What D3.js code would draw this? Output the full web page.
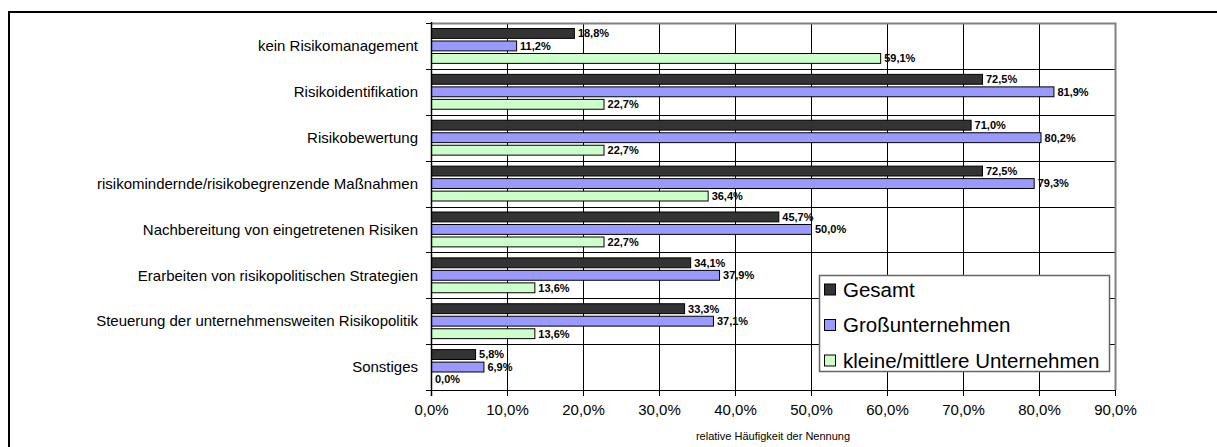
<!DOCTYPE html>
<html>
<head>
<meta charset="utf-8">
<script src="https://cdn.jsdelivr.net/npm/d3@7"></script>
<style>
  html, body { margin: 0; padding: 0; background: #fff; }
  svg { display: block; font-family: "Liberation Sans", Arial, sans-serif; }
</style>
</head>
<body>
<svg id="chart" width="1217" height="447"></svg>
<script>
const categories = [
  "kein Risikomanagement",
  "Risikoidentifikation",
  "Risikobewertung",
  "risikomindernde/risikobegrenzende Maßnahmen",
  "Nachbereitung von eingetretenen Risiken",
  "Erarbeiten von risikopolitischen Strategien",
  "Steuerung der unternehmensweiten Risikopolitik",
  "Sonstiges"
];
const seriesNames = ["Gesamt", "Großunternehmen", "kleine/mittlere Unternehmen"];
const gesamt = [18.8, 72.5, 71.0, 72.5, 45.7, 34.1, 33.3, 5.8];
const gross = [11.2, 81.9, 80.2, 79.3, 50.0, 37.9, 37.1, 6.9];
const klein = [59.1, 22.7, 22.7, 36.4, 22.7, 13.6, 13.6, 0.0];
const xTicks = [0, 10, 20, 30, 40, 50, 60, 70, 80, 90];
const axisTitle = "relative Häufigkeit der Nennung";
const colors = ["#333333", "#9999FF", "#CCFFCC"];

const seriesValues = [gesamt, gross, klein];
const fmt = v => v.toFixed(1).replace(".", ",") + "%";

const svg = d3.select("#chart");

// outer frame (extends past right/bottom edges)
svg.append("rect").attr("x", 9).attr("y", 12).attr("width", 1230).attr("height", 460)
  .attr("fill", "none").attr("stroke", "#000").attr("stroke-width", 2);

const pL = 431, pR = 1115, pT = 23, pB = 390;
const x = d3.scaleLinear().domain([0, 90]).range([pL, pR]);
const y0 = d3.scaleBand().domain(categories).range([pT, pB]);
const y1 = d3.scaleBand().domain(seriesNames).range([0, y0.bandwidth()])
  .paddingInner(0.13).paddingOuter(0.4);

// vertical gridlines
svg.append("g").selectAll("line").data(xTicks.filter(t => t > 0 && t < 90)).join("line")
  .attr("x1", d => Math.round(x(d)) + 0.5).attr("x2", d => Math.round(x(d)) + 0.5)
  .attr("y1", pT).attr("y2", pB)
  .attr("stroke", "#000").attr("stroke-width", 1);

// horizontal category boundary lines
const bounds = categories.map(c => y0(c)).concat([pB]);
svg.append("g").selectAll("line").data(bounds).join("line")
  .attr("x1", pL - 5).attr("x2", pR)
  .attr("y1", d => Math.round(d) + 0.5).attr("y2", d => Math.round(d) + 0.5)
  .attr("stroke", "#000").attr("stroke-width", 1);

// plot area border (top/right grey)
svg.append("path")
  .attr("d", `M${pL},${pT + 0.5}H${pR + 0.5}V${pB}`)
  .attr("fill", "none").attr("stroke", "#808080").attr("stroke-width", 2);

// bars
const groups = svg.append("g").selectAll("g").data(categories).join("g")
  .attr("transform", c => `translate(0,${y0(c)})`);

groups.each(function(c, ci) {
  const g = d3.select(this);
  seriesNames.forEach((s, si) => {
    const v = seriesValues[si][ci];
    const yy = y1(s);
    if (v > 0) {
      g.append("rect")
        .attr("x", x(0) + 0.5)
        .attr("y", yy + 0.5)
        .attr("width", x(v) - x(0))
        .attr("height", y1.bandwidth() - 1)
        .attr("fill", colors[si])
        .attr("stroke", "#000").attr("stroke-width", 1);
    }
    g.append("text")
      .attr("x", x(v) + 4)
      .attr("y", yy + y1.bandwidth() / 2)
      .attr("dy", "0.35em")
      .attr("font-size", 11).attr("font-weight", "bold")
      .attr("fill", "#000")
      .text(fmt(v));
  });
});

// y axis line
svg.append("line").attr("x1", pL + 0.5).attr("x2", pL + 0.5)
  .attr("y1", pT - 1).attr("y2", pB + 6).attr("stroke", "#000").attr("stroke-width", 1.5);
// x axis line
svg.append("line").attr("x1", pL).attr("x2", pR + 1)
  .attr("y1", pB + 0.5).attr("y2", pB + 0.5).attr("stroke", "#000").attr("stroke-width", 1);

// category labels
svg.append("g").selectAll("text").data(categories).join("text")
  .attr("x", 418).attr("y", c => y0(c) + y0.bandwidth() / 2)
  .attr("dy", "0.35em").attr("text-anchor", "end")
  .attr("font-size", 15).attr("fill", "#000")
  .text(c => c);

// x axis ticks and labels
const xAxis = d3.axisBottom(x).tickValues(xTicks).tickSize(6).tickSizeOuter(0)
  .tickFormat(d => d.toFixed(1).replace(".", ",") + "%");
const ax = svg.append("g").attr("transform", `translate(0,${pB})`).call(xAxis);
ax.select(".domain").remove();
ax.selectAll("line").attr("stroke", "#000");
ax.selectAll("text").attr("font-size", 15).attr("font-family", "Liberation Sans, Arial, sans-serif")
  .attr("y", 20).attr("dy", "0.35em").attr("fill", "#000");

// axis title
svg.append("text").attr("x", (pL + pR) / 2).attr("y", 440)
  .attr("text-anchor", "middle").attr("font-size", 11).attr("fill", "#000")
  .text(axisTitle);

// legend
const lg = svg.append("g");
lg.append("rect").attr("x", 819.5).attr("y", 275.5).attr("width", 290).attr("height", 96)
  .attr("fill", "#fff").attr("stroke", "#666").attr("stroke-width", 1.5);
seriesNames.forEach((s, i) => {
  const cy = 289.5 + i * 35.5;
  lg.append("rect").attr("x", 824.5).attr("y", cy - 5.5).attr("width", 11).attr("height", 11)
    .attr("fill", colors[i]).attr("stroke", "#000").attr("stroke-width", 1);
  lg.append("text").attr("x", 843).attr("y", cy).attr("dy", "0.36em")
    .attr("font-size", 20.5).attr("fill", "#000").text(s);
});
</script>
</body>
</html>
